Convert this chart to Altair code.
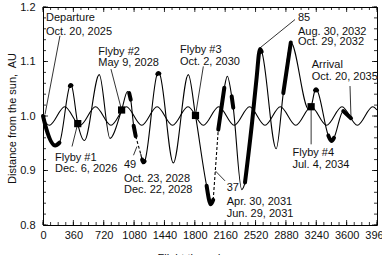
import altair as alt
import pandas as pd

FONT = "Liberation Sans"
LAUNCH = pd.Timestamp("2025-10-20")

# Earth's distance from the sun: perihelia / aphelia, days after launch
earth_day = [0, 75, 258, 440, 623, 806, 988, 1171, 1353, 1536, 1719, 1901,
             2084, 2267, 2449, 2632, 2814, 2997, 3180, 3362, 3545, 3727, 3910, 3960]
earth_au = [0.995, 0.983, 1.017, 0.983, 1.017, 0.983, 1.017, 0.983, 1.017, 0.983, 1.017, 0.983,
            1.017, 0.983, 1.017, 0.983, 1.017, 0.983, 1.017, 0.983, 1.017, 0.983, 1.017, 1.011]

# Spacecraft distance from the sun
sc_day = [0, 40, 145, 195, 318, 328, 338, 412, 492, 667, 794, 932, 1002, 1022, 1040, 1075, 1099,
          1159, 1175, 1190, 1205, 1355, 1367, 1380, 1545, 1723, 1808, 1940, 1990, 2018,
          2078, 2150, 2185, 2237, 2256, 2356, 2395, 2480, 2530, 2573, 2593, 2765, 2849, 2938,
          3150, 3179, 3225, 3237, 3250, 3383, 3420, 3450, 3560, 3652]
sc_au = [1.000, 0.976, 0.946, 0.951, 1.055, 1.057, 1.056, 0.986, 0.955, 1.076, 0.959, 1.011,
         1.045, 1.042, 1.030, 0.982, 0.963,
         0.930, 0.920, 0.915, 0.917, 1.077, 1.079, 1.078, 0.914, 1.076, 1.001, 0.872, 0.838, 0.846,
         0.975, 1.052, 1.073, 1.036, 1.015, 0.865, 0.878, 0.990, 1.066, 1.123, 1.118, 0.940,
         1.042, 1.135, 1.012, 1.017, 1.047, 1.049, 1.047, 0.964, 0.954, 0.960, 1.009, 0.996]

# Coast periods without trajectory data (dashed)
coast_from = ["2028-10-23", "2031-04-30"]
coast_to = ["2028-12-22", "2031-06-29"]

# Thrust arcs (heavy line), day ranges
burn_start = [0, 318, 1022, 1075, 1175, 1355, 1940, 2078, 2237, 2395, 2849, 3225, 3383, 3560]
burn_end = [195, 338, 1040, 1099, 1205, 1380, 2018, 2150, 2256, 2593, 2938, 3250, 3450, 3652]

# Earth flybys
flyby_date = ["2026-12-06", "2028-05-09", "2030-10-02", "2034-07-04"]
flyby_au = [0.986, 1.011, 1.001, 1.017]

# Annotation text: line, day, au (left edge, vertical centre)
note_text = ["Departure", "Oct. 20, 2025",
             "Flyby #1", "Dec. 6, 2026",
             "Flyby #2", "May 9, 2028",
             "49", "Oct. 23, 2028", "Dec. 22, 2028",
             "Flyby #3", "Oct. 2, 2030",
             "37", "Apr. 30, 2031", "Jun. 29, 2031",
             "85", "Aug. 30, 2032", "Oct. 29, 2032",
             "Arrival", "Oct. 20, 2035",
             "Flyby #4", "Jul. 4, 2034"]
note_day = [36, 36, 142, 142, 656, 656, 960, 960, 960, 1624, 1624,
            2178, 2178, 2178, 3023, 3023, 3023, 3186, 3186, 2958, 2958]
note_au = [1.180, 1.155, 0.923, 0.902, 1.118, 1.097, 0.910, 0.885, 0.864, 1.122, 1.100,
           0.867, 0.843, 0.820, 1.180, 1.155, 1.135, 1.093, 1.071, 0.933, 0.911]

# Leader lines from annotations to the trajectory
lead_day1 = [201, 344, 806, 1073, 1901, 2158, 2988, 3640, 3179]
lead_au1 = [1.147, 0.944, 1.086, 0.928, 1.091, 0.881, 1.177, 1.055, 1.017]
lead_day2 = [24, 412, 932, 1114, 1808, 2045, 2573, 3652, 3179]
lead_au2 = [1.003, 0.986, 1.011, 0.944, 1.001, 0.899, 1.125, 0.996, 0.948]

x_ticks = [0, 360, 720, 1080, 1440, 1800, 2160, 2520, 2880, 3240, 3600, 3960]
y_ticks = [0.8, 0.9, 1.0, 1.1, 1.2]
x_minor = list(range(0, 3961, 90))
y_minor = [round(0.8 + 0.02 * i, 2) for i in range(21)]

W, H = 334, 218

# ---- tables -------------------------------------------------------------
def days(dates):
    return [(pd.Timestamp(d) - LAUNCH).days for d in dates]

gap_a, gap_b = days(coast_from), days(coast_to)

earth = pd.DataFrame({"day": earth_day, "au": earth_au})
sc = pd.DataFrame({"day": sc_day, "au": sc_au})
sc["arc"] = [sum(d >= g for g in gap_b) for d in sc["day"]]

burn = pd.concat(
    [sc[(sc["day"] >= s) & (sc["day"] <= e)].assign(seg=i)
     for i, (s, e) in enumerate(zip(burn_start, burn_end))],
    ignore_index=True)

au_at = dict(zip(sc_day, sc_au))
coast = pd.DataFrame({
    "day": [d for pair in zip(gap_a, gap_b) for d in pair],
    "au": [au_at[d] for pair in zip(gap_a, gap_b) for d in pair],
    "gap": [i for i in range(len(gap_a)) for _ in range(2)],
})

flyby = pd.DataFrame({"day": days(flyby_date), "au": flyby_au})
notes = pd.DataFrame({"day": note_day, "au": note_au, "text": note_text})
leads = pd.DataFrame({"day": lead_day1, "au": lead_au1, "day2": lead_day2, "au2": lead_au2})

xs = alt.Scale(domain=[0, 3960], nice=False, zero=False)
ys = alt.Scale(domain=[0.8, 1.2], nice=False, zero=False)

x_axis = alt.Axis(
    values=x_ticks, format="d", labelOverlap=False, labelFlush=False,
    title="Flight time, days", ticks=False, domain=False, grid=False,
    labelPadding=4, labelFontSize=11, labelFont=FONT, labelColor="#111",
    titleFont=FONT, titleFontSize=11, titleFontWeight="normal", titleColor="#111",
    titleAnchor="start", titleX=114, titleY=27, titleBaseline="top")
y_axis = alt.Axis(
    values=y_ticks, format=".1f", labelOverlap=False, labelFlush=False,
    title="Distance from the sun,\u00a0 AU", ticks=False,
    domain=False, grid=False, labelPadding=8, labelFontSize=11, labelFont=FONT,
    labelColor="#111", titleFont=FONT, titleFontSize=11, titleFontWeight="normal",
    titleColor="#111", titleX=-31, titleY=111, titleBaseline="middle", titleAngle=-90,
    titleAlign="center")
X = alt.X("day:Q", scale=xs, axis=x_axis)
Y = alt.Y("au:Q", scale=ys, axis=y_axis)

earth_line = alt.Chart(earth).mark_line(
    color="black", strokeWidth=1.1, interpolate="monotone").encode(x=X, y=Y)

sc_line = alt.Chart(sc).mark_line(
    color="black", strokeWidth=1.1, interpolate="monotone").encode(x=X, y=Y, detail="arc:N")

coast_line = alt.Chart(coast).mark_line(
    color="black", strokeWidth=1.1, strokeDash=[3, 2]).encode(x=X, y=Y, detail="gap:N")

burn_line = alt.Chart(burn).mark_line(
    color="black", strokeWidth=4, interpolate="monotone", strokeCap="round").encode(
    x=X, y=Y, detail="seg:N")

flyby_pts = alt.Chart(flyby).mark_square(
    color="black", size=52, filled=True, opacity=1).encode(x=X, y=Y)

lead_lines = alt.Chart(leads).mark_rule(color="black", strokeWidth=0.8).encode(
    x=X, y=Y, x2="day2:Q", y2="au2:Q")

note_marks = alt.Chart(notes).mark_text(
    align="left", baseline="middle", font=FONT, fontSize=11, color="#111").encode(
    x=X, y=Y, text="text:N")

# inward tick marks on all four sides
def yt(vals, length, right=False):
    d = pd.DataFrame({"au": vals})
    x0 = W if right else 0
    x1 = W - length if right else length
    return alt.Chart(d).mark_rule(color="black", strokeWidth=0.8).encode(
        y=Y, x=alt.value(x0), x2=alt.value(x1))

def xt(vals, length, top=False):
    d = pd.DataFrame({"day": vals})
    y0 = 0 if top else H
    y1 = length if top else H - length
    return alt.Chart(d).mark_rule(color="black", strokeWidth=0.8).encode(
        x=X, y=alt.value(y0), y2=alt.value(y1))

ticks = [yt(y_minor, 3), yt(y_ticks, 5), yt(y_minor, 3, True), yt(y_ticks, 5, True),
         xt(x_minor, 3), xt(x_ticks, 5), xt(x_minor, 3, True), xt(x_ticks, 5, True)]

chart = alt.layer(
    earth_line, sc_line, coast_line, burn_line, flyby_pts, lead_lines, note_marks, *ticks
).properties(
    width=W, height=H,
    padding={"left": 43, "top": 7, "right": 5, "bottom": 30},
    autosize=alt.AutoSizeParams(type="none"),
    background="white",
).configure_view(stroke="black", strokeWidth=1)

chart.save("out.html", embed_options={"renderer": "svg", "actions": False})
